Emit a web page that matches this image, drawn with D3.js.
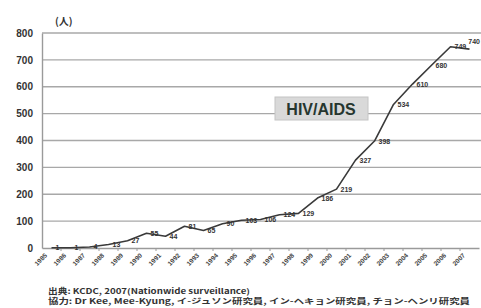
<!DOCTYPE html>
<html><head><meta charset="utf-8">
<script src="https://cdn.jsdelivr.net/npm/d3@7"></script>
<style>html,body{margin:0;padding:0;background:#fff;}svg{display:block;}</style>
</head><body>
<svg id="c" width="481" height="308"></svg>
<script>
const years = ["1985","1986","1987","1988","1989","1990","1991","1992","1993","1994","1995","1996","1997","1998","1999","2000","2001","2002","2003","2004","2005","2006","2007"];
const cases = [1,1,4,13,27,55,44,81,65,90,103,106,124,129,186,219,327,398,534,610,680,749,740];
const yTicks = [0,100,200,300,400,500,600,700,800];
const unitLabel = "(人)";
const seriesName = "HIV/AIDS";
const sourceLines = ["出典: KCDC, 2007(Nationwide surveillance)", "協力: Dr Kee, Mee-Kyung,  イ-ジュソン研究員,  イン-ヘキョン研究員,  チョン-ヘンリ研究員"];

const svg = d3.select("#c");
const x = d3.scaleBand().domain(years).range([42, 479]).padding(0);
const y = d3.scaleLinear().domain([0, 800]).range([248, 33]);
const font = "'Liberation Sans', Arial, sans-serif";

// gridlines
svg.append("g").selectAll("line").data(yTicks.filter(d => d > 0)).join("line")
  .attr("x1", 42).attr("x2", 481).attr("y1", d => y(d)).attr("y2", d => y(d))
  .attr("stroke", "#a8a8a8").attr("stroke-width", 1.4);

// y axis
const yAxis = svg.append("g").attr("transform", "translate(42,0)")
  .call(d3.axisLeft(y).tickValues(yTicks).tickSize(0).tickPadding(9));
yAxis.select(".domain").attr("stroke", "#9a9a9a").attr("stroke-width", 1.4);
yAxis.selectAll("text").attr("font-family", font).attr("font-size", 10).attr("font-weight", "bold").attr("fill", "#333");

// x axis
const xAxis = svg.append("g").attr("transform", "translate(0,248)")
  .call(d3.axisBottom(x).tickSize(0).tickFormat(""));
xAxis.select(".domain").attr("stroke", "#9a9a9a").attr("stroke-width", 1.4);
svg.append("g").selectAll("line").data(years.slice(1)).join("line")
  .attr("x1", d => x(d)).attr("x2", d => x(d)).attr("y1", 248).attr("y2", 251)
  .attr("stroke", "#9a9a9a").attr("stroke-width", 1);
svg.append("g").selectAll("text").data(years).join("text")
  .attr("transform", d => `translate(${x(d) + x.bandwidth()/2 - 4},256) rotate(-45)`)
  .attr("text-anchor", "end").attr("font-family", font).attr("font-size", 6.5).attr("font-weight", "bold")
  .attr("fill", "#444").text(d => d);

// line
const line = d3.line().x((d, i) => x(years[i]) + x.bandwidth()/2).y(d => y(d));
svg.append("path").datum(cases).attr("d", line)
  .attr("fill", "none").attr("stroke", "#3a3a3a").attr("stroke-width", 1.6).attr("stroke-linejoin", "round");

// data labels
const last = cases.length - 1;
svg.append("g").selectAll("text").data(cases).join("text")
  .attr("x", (d, i) => i === last ? 480 : x(years[i]) + x.bandwidth()/2 + 4)
  .attr("y", (d, i) => i === last ? y(d) - 5 : y(d) + 2.5)
  .attr("text-anchor", (d, i) => i === last ? "end" : "start")
  .attr("font-family", font).attr("font-size", 7).attr("font-weight", "bold").attr("fill", "#333")
  .text(d => d);

// unit label
svg.append("text").attr("x", 55).attr("y", 25).attr("font-family", "'Noto Sans CJK JP', sans-serif")
  .attr("font-size", 10).attr("font-weight", "bold").attr("fill", "#333").text(unitLabel);

// series label box
svg.append("rect").attr("x", 275).attr("y", 97).attr("width", 93).attr("height", 23)
  .attr("fill", "#d9d9d9").attr("stroke", "#c4c4c4").attr("stroke-width", 1);
svg.append("text").attr("x", 321).attr("y", 115).attr("text-anchor", "middle")
  .attr("font-family", font).attr("font-size", 16).attr("font-weight", "bold").attr("fill", "#26362f")
  .text(seriesName);

// source
svg.append("text").attr("x", 48).attr("y", 294).attr("font-family", "'Noto Sans CJK JP', sans-serif")
  .attr("font-size", 7.5).attr("font-weight", "bold").attr("fill", "#333")
  .attr("textLength", 202).attr("lengthAdjust", "spacingAndGlyphs").text(sourceLines[0]);
svg.append("text").attr("x", 48).attr("y", 304).attr("font-family", "'Noto Sans CJK JP', sans-serif")
  .attr("font-size", 7.5).attr("font-weight", "bold").attr("fill", "#333")
  .attr("textLength", 422).attr("lengthAdjust", "spacingAndGlyphs").text(sourceLines[1]);
</script>
</body></html>
